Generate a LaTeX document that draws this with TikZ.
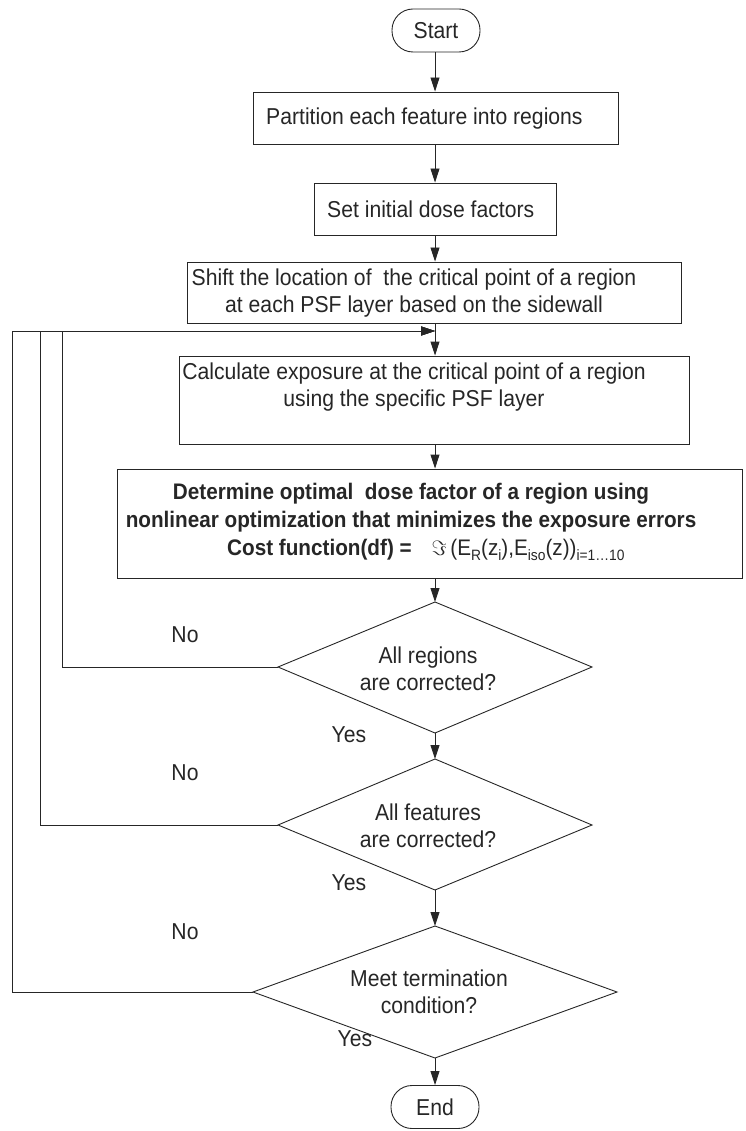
\documentclass[tikz,border=0pt]{standalone}
\usepackage{fontspec}
\setmainfont[FakeStretch=0.92]{Liberation Sans}
\usetikzlibrary{arrows.meta}
\newcommand\lowtxt[1]{\raisebox{-0.45ex}{\fontsize{15}{15}\selectfont #1}}

\begin{document}
\begin{tikzpicture}[x=1pt,y=-1pt,
  every node/.style={font=\fontsize{23}{27.5}\selectfont, text=black!85},
  ln/.style={line width=0.9pt, draw=black!85},
  arr/.style={ln, -{Triangle[length=14pt,width=9pt]}},
  procbox/.style={draw=black!85, line width=0.9pt, rectangle, inner sep=0pt},
  termbox/.style={draw=black!85, line width=0.9pt, rectangle, rounded corners=21pt,
    minimum width=88pt, minimum height=43pt, inner sep=0pt},
  lbl/.style={inner sep=0pt},
  dectxt/.style={inner sep=0pt, align=center, font=\fontsize{23}{26.5}\selectfont}
]
\useasboundingbox (0,0) rectangle (745,1131);

% terminals
\node[termbox] (start) at (436,30.5) {Start};
\node[termbox] (end) at (435,1107) {End};

% process boxes
\node[procbox, minimum width=365pt, minimum height=52pt] (part) at (435.5,118) {};
\node[lbl, anchor=west] (parttxt) at (266,119) {Partition each feature into regions};

\node[procbox, minimum width=242pt, minimum height=52pt] (set) at (435,209) {};
\node[lbl, anchor=west] (settxt) at (327,209) {Set initial dose factors};

\node[procbox, minimum width=494pt, minimum height=61pt] (shift) at (434,292.5) {};
\node[lbl, align=center] (shifttxt) at (414,293)
  {Shift the location of~ the critical point of a region\\at each PSF layer based on the sidewall};

\node[procbox, minimum width=510pt, minimum height=88pt] (calc) at (434,400) {};
\node[lbl, align=center] (calctxt) at (414,387)
  {Calculate exposure at the critical point of a region\\using the specific PSF layer};

\node[procbox, minimum width=625pt, minimum height=109pt] (det) at (429.5,523.5) {};
\node[lbl, align=center, font=\fontsize{22.5}{28}\selectfont\bfseries] (dettxt) at (411,508)
  {Determine optimal~ dose factor of a region using\\nonlinear optimization that minimizes the exposure errors};
\node[lbl, anchor=west] (costtxt) at (227,550)
  {\fontsize{22.5}{28}\selectfont\textbf{Cost function(df) =}\hspace{20pt}$\Im$\,(E\lowtxt{R}(z\lowtxt{i}),E\lowtxt{iso}(z))\lowtxt{i=1\ldots10}};

% decisions: outlines with named corners, text at the centre
\coordinate (d1t) at (435,602);  \coordinate (d1b) at (435,733);
\coordinate (d1l) at (278,667);  \coordinate (d1r) at (592,667);
\draw[ln] (d1t) -- (d1r) -- (d1b) -- (d1l) -- cycle;
\node[dectxt] (d1) at (428,669) {All regions\\are corrected?};

\coordinate (d2t) at (435,759);  \coordinate (d2b) at (435,890);
\coordinate (d2l) at (278,825);  \coordinate (d2r) at (592,825);
\draw[ln] (d2t) -- (d2r) -- (d2b) -- (d2l) -- cycle;
\node[dectxt] (d2) at (428,826) {All features\\are corrected?};

\coordinate (d3t) at (435,926);  \coordinate (d3b) at (435,1058);
\coordinate (d3l) at (253,992);  \coordinate (d3r) at (617,992);
\draw[ln] (d3t) -- (d3r) -- (d3b) -- (d3l) -- cycle;
\node[dectxt] (d3) at (429,992) {Meet termination\\condition?};

% branch labels
\node[lbl] (no1) at (185,635) {No};
\node[lbl] (no2) at (185,773) {No};
\node[lbl] (no3) at (185,932) {No};
\node[lbl] (yes1) at (349,735) {Yes};
\node[lbl] (yes2) at (349,883) {Yes};
\node[lbl] (yes3) at (355,1039) {Yes};

% main flow
\draw[arr] (start.south -| d1t) -- (d1t |- part.north);
\draw[arr] (d1t |- part.south) -- (d1t |- set.north);
\draw[arr] (d1t |- set.south) -- (d1t |- shift.north);
\draw[arr] (d1t |- shift.south) -- (d1t |- calc.north);
\draw[arr] (d1t |- calc.south) -- (d1t |- det.north);
\draw[arr] (d1t |- det.south) -- (d1t);
\draw[arr] (d1b) -- (d2t);
\draw[arr] (d2b) -- (d3t);
\draw[arr] (d3b) -- (end.north -| d3b);

% feedback loops into the exposure step
\coordinate (loopin) at (435,331);
\draw[arr] (d1l) -- (62,667) -- (62,331) -- (loopin);
\draw[arr] (d2l) -- (40,825) -- (40,331) -- (loopin);
\draw[arr] (d3l) -- (12,992) -- (12,331) -- (loopin);
\end{tikzpicture}
\end{document}
